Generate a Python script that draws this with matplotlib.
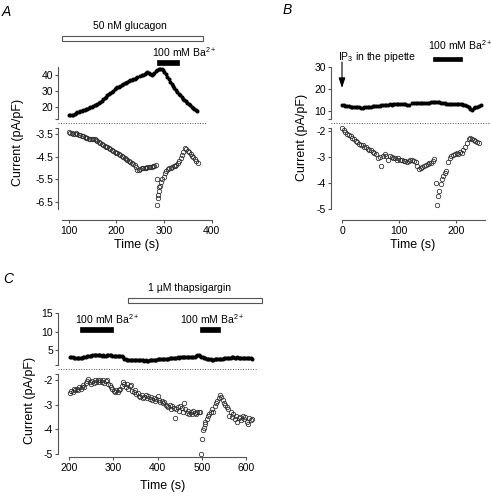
import numpy as np
import matplotlib
matplotlib.use("Agg")
import matplotlib.pyplot as plt
import matplotlib.transforms as mtransforms
from matplotlib.patches import Rectangle
from matplotlib.lines import Line2D

plt.rcParams['font.family'] = ['Liberation Sans', 'DejaVu Sans']
plt.rcParams['mathtext.fontset'] = 'custom'
plt.rcParams['mathtext.rm'] = 'Liberation Sans'
plt.rcParams['mathtext.it'] = 'Liberation Sans:italic'
plt.rcParams['axes.unicode_minus'] = False
plt.rcParams['font.size'] = 7

W, H = 491, 499
PT = 0.72  # points per pixel at dpi 100
SPINE = '#555555'

# ---- panel A: glucagon (time step 3 s) ----
a_up_t0 = 100
a_up = [15.0, 15.1, 15.0, 15.3, 15.8, 16.3, 16.7, 17.0, 17.3, 17.6,
        18.0, 18.3, 18.6, 19.0, 19.4, 19.8, 20.2, 20.6, 21.0, 21.5,
        22.0, 22.6, 23.2, 24.0, 24.8, 25.6, 26.4, 27.2, 28.0, 28.8,
        29.6, 30.3, 31.0, 31.6, 32.2, 32.7, 33.2, 33.7, 34.2, 34.7,
        35.2, 35.6, 36.1, 36.6, 37.0, 37.4, 37.8, 38.2, 38.5, np.nan,
        39.3, 39.8, 40.2, 40.6, 41.5, 41.8, 41.2, 40.8, 40.3, 40.5,
        41.5, 42.5, 43.4, 43.6, 43.5, 43.8, 43.2, 42.0, 40.5, 38.8,
        37.3, 35.9, 34.4, 33.2, 31.9, 30.7, 29.5, 28.4, 27.3, 26.3,
        25.3, 24.4, 23.5, 22.6, 21.8, 21.0, 20.2, 19.4, 18.6, 18.0,
        17.4]
a_low1_t0 = 100
a_low1 = [-3.43, -3.45, -3.46, -3.48, -3.50, -3.47, -3.52, -3.53, -3.55, -3.58,
          -3.60, -3.63, -3.66, -3.68, -3.70, -3.72, -3.71, -3.74, -3.73, -3.77,
          -3.82, -3.86, -3.90, -3.94, -3.98, -4.02, -4.06, -4.09, -4.12, -4.16,
          -4.20, -4.24, -4.28, -4.32, -4.36, -4.40, -4.44, -4.49, -4.53, -4.57,
          -4.61, -4.66, -4.70, -4.74, -4.79, -4.84, -4.89, -4.95, -5.08, -5.10,
          -5.05, -5.02, -5.00, -4.99, -4.98, -4.97, -4.97, -4.95, -4.94, -4.93,
          -4.91, -4.89]
a_burst_t = [285, 286, 287, 288, 289, 290, 291]
a_burst = [-5.50, -6.65, -6.33, -6.19, -6.00, -5.85, -5.80]
a_low2_t0 = 293
a_low2 = [-5.60, -5.50, -5.38, -5.22, -5.12, -5.06, -5.02, -4.99, -4.96, -4.93,
          -4.90, -4.88, -4.80, -4.68, -4.55, -4.42, -4.28, -4.13, -4.18, -4.24,
          -4.30, -4.37, -4.45, -4.53, -4.60, -4.68, -4.78]

# ---- panel B: IP3 in pipette ----
b_up_t0 = 0
b_up = [12.6, 12.5, 12.4, 12.3, 12.2, 12.0, 12.0, 11.9, 11.8, 11.7,
        11.6, 11.5, 11.5, 11.6, 11.8, 11.9, 12.0, 12.0, 12.1, 12.2,
        12.2, 12.3, 12.4, 12.5, 12.5, 12.6, 12.8, 12.9, 13.0, 12.9,
        13.1, 13.2, 13.3, 13.2, 13.1, 13.2, 13.0, 13.0, 12.9, 12.8,
        np.nan, 13.6, 13.7, 13.6, 13.5, 13.7, 13.8, 13.6, 13.7, 13.8,
        13.6, 13.7, 13.9, 14.0, 14.2, 14.3, 14.1, 13.9, 13.7, 13.5,
        13.6, 13.4, 13.3, 13.2, 13.3, 13.4, 13.2, 13.0, 13.2, 13.3,
        13.1, 12.9, 12.7, 12.4, 11.8, 11.0, 10.5, 11.2, 11.8, 12.0,
        12.3, 12.6]
b_low1_t0 = 0
b_low1 = [-1.90, -1.95, -2.05, -2.10, -2.15, -2.20, -2.28, -2.32, -2.40, -2.42,
          -2.50, -2.55, -2.55, -2.60, -2.62, -2.70, -2.72, -2.75, -2.80, -2.85,
          -2.90, -3.05, -3.00, -3.35, -2.95, -2.90, -2.95, -3.10, -2.95, -3.00,
          -3.05, -3.05, -3.10, -3.05, -3.10, -3.12, -3.15, -3.15, -3.18, -3.15,
          -3.12, -3.10, -3.15, -3.20, -3.35, -3.48, -3.42, -3.38, -3.35, -3.30,
          -3.28, -3.25, -3.22, -3.15, -3.08]
b_burst_t = [165, 167, 169, 171, 173, 175, 178, 181, 183]
b_burst = [-4.00, -4.85, -4.50, -4.30, -4.05, -3.85, -3.75, -3.60, -3.55]
b_low2_t0 = 186
b_low2 = [-3.20, -3.05, -2.98, -2.92, -2.88, -2.85, -2.88, -2.82, -2.85, -2.72,
          -2.60, -2.45, -2.32, -2.28, -2.32, -2.36, -2.40, -2.43, -2.47]

# ---- panel C: thapsigargin ----
c_up_t0 = 202
c_up = [3.2, 3.1, 3.0, 2.9, 2.9, 2.8, 2.8, 2.8, 2.9, 2.9,
        3.0, 3.1, 3.2, 3.3, 3.4, 3.5, 3.5, 3.6, 3.6, 3.6,
        3.6, 3.7, 3.6, 3.6, 3.5, 3.6, 3.5, 3.5, 3.6, 3.6,
        3.6, 3.6, 3.5, 3.5, 3.5, 3.4, 3.4, 3.4, 3.3, 3.3,
        3.0, 2.7, 2.5, 2.4, 2.4, 2.3, 2.3, 2.4, 2.3, 2.4,
        2.3, 2.3, 2.2, 2.3, 2.2, 2.2, 2.1, 2.2, 2.1, 2.1,
        2.2, 2.2, 2.3, 2.3, 2.4, 2.4, 2.5, 2.5, 2.5, 2.6,
        2.6, 2.6, 2.7, 2.7, 2.7, 2.8, 2.8, 2.8, 2.9, 2.9,
        2.9, 3.0, 2.9, 3.0, 3.0, 3.0, 3.1, 3.0, 3.0, 3.1,
        3.0, 3.1, 3.0, 3.1, 3.2, 3.5, 3.7, 3.6, 3.4, 3.2,
        3.0, 2.9, 2.8, 2.7, 2.6, 2.5, 2.5, 2.4, 2.4, 2.5,
        2.5, 2.6, 2.6, 2.7, 2.7, 2.7, 2.8, 2.8, 2.8, 2.9,
        2.9, 2.9, 3.0, 3.0, 2.9, 2.9, 3.0, 2.9, 2.9, 2.9,
        2.8, 2.9, 2.8, 2.8, 2.8, 2.8, 2.8, 2.7]
c_low1_t0 = 202
c_low1 = [-2.55, -2.45, -2.50, -2.38, -2.42, -2.35, -2.40, -2.30, -2.38, -2.28,
          -2.22, -2.30, -2.12, -2.05, -1.95, -2.10, -2.15, -2.05, -2.12, -2.00,
          -2.08, -2.00, -2.10, -2.02, -2.08, -2.00, -2.12, -2.05, -2.00, -2.15,
          -2.20, -2.30, -2.35, -2.45, -2.50, -2.42, -2.48, -2.40, -2.35, -2.25,
          -2.10, -2.18, -2.30, -2.15, -2.35, -2.25, -2.20, -2.45, -2.50, -2.40,
          -2.58, -2.55, -2.65, -2.70, -2.62, -2.75, -2.68, -2.60, -2.72, -2.65,
          -2.78, -2.70, -2.80, -2.72, -2.85, -2.78, -2.65, -2.82, -2.90, -2.85,
          -2.95, -2.88, -3.00, -3.05, -3.12, -3.02, -3.18, -3.08, -3.15, -3.55,
          -3.20, -3.10, -3.25, -3.05, -3.15, -3.30, -2.95, -3.20, -3.35, -3.25,
          -3.40, -3.30, -3.38, -3.28, -3.35, -3.40, -3.30, -3.32, -3.30]
c_burst_t = [499, 501, 503, 504, 506, 508]
c_burst = [-5.00, -4.40, -4.05, -3.95, -3.80, -3.70]
c_low2_t0 = 511
c_low2 = [-3.58, -3.48, -3.40, -3.30, -3.20, -3.32, -3.05, -2.95, -2.85, -2.75,
          -2.62, -2.70, -2.82, -2.95, -3.02, -3.10, -3.20, -3.45, -3.30, -3.50,
          -3.40, -3.60, -3.45, -3.70, -3.55, -3.50, -3.65, -3.45, -3.60, -3.52,
          -3.70, -3.80, -3.55, -3.62, -3.58]

STEP = 3


def times(t0, vals):
    return t0 + STEP * np.arange(len(vals))


fig = plt.figure(figsize=(W / 100, H / 100), dpi=100)


def px_axes(x0, y0, x1, y1):
    return fig.add_axes([x0 / W, 1 - y1 / H, (x1 - x0) / W, (y1 - y0) / H])


def style(ax):
    ax.patch.set_visible(False)
    for s in ('top', 'right'):
        ax.spines[s].set_visible(False)
    for s in ('left', 'bottom'):
        ax.spines[s].set_color(SPINE)
        ax.spines[s].set_linewidth(0.8)
    ax.tick_params(which='both', length=3 * PT, width=0.8, color=SPINE, pad=2 * PT, labelsize=7.5)


def panel(x0, x1, xlim, xbounds, xticks, up_y, up_lim, up_ticks, low_y, low_lim, low_ticks, x_out):
    ax_up = px_axes(x0, up_y[0], x1, up_y[1])
    ax_low = px_axes(x0, low_y[0], x1, low_y[1])
    for ax in (ax_up, ax_low):
        style(ax)
        ax.set_xlim(xlim)
    ax_up.spines['bottom'].set_visible(False)
    ax_up.set_xticks([])
    ax_up.set_ylim(up_lim)
    ax_up.set_yticks(up_ticks)
    ax_up.set_yticks([up_lim[0]], minor=True)
    ax_low.set_ylim(low_lim)
    ax_low.set_yticks(low_ticks)
    ax_low.set_yticks([low_lim[1]], minor=True)
    ax_low.spines['bottom'].set_position(('outward', x_out * PT))
    ax_low.spines['bottom'].set_bounds(*xbounds)
    ax_low.set_xticks(xticks)
    ax_low.tick_params(axis='x', pad=3 * PT)
    return ax_up, ax_low


def filled(ax, t, v):
    ax.plot(t, v, 'o', ms=2.9, color='black', mew=0, clip_on=False)


def hollow(ax, t, v):
    ax.plot(t, v, 'o', ms=3.2, mfc='none', mec='#2a2a2a', mew=0.55, clip_on=False)


def fig_y(py):
    return 1 - py / H


def bar(ax, t0, t1, py0, py1, open_bar=False):
    tr = mtransforms.blended_transform_factory(ax.transData, fig.transFigure)
    if open_bar:
        r = Rectangle((t0, fig_y(py1)), t1 - t0, (py1 - py0) / H, transform=tr,
                      facecolor='white', edgecolor='#555555', lw=0.8, clip_on=False)
    else:
        r = Rectangle((t0, fig_y(py1)), t1 - t0, (py1 - py0) / H, transform=tr,
                      facecolor='black', edgecolor='black', lw=0.5, clip_on=False)
    ax.add_patch(r)


def label(ax, t, py, s, ha='left'):
    tr = mtransforms.blended_transform_factory(ax.transData, fig.transFigure)
    ax.text(t, fig_y(py), s, transform=tr, ha=ha, va='center', fontsize=7.5, clip_on=False)


def dotted(px0, px1, py):
    fig.add_artist(Line2D([px0 / W, px1 / W], [fig_y(py)] * 2, transform=fig.transFigure,
                          ls=(0, (1, 1.6)), lw=0.7, color='#555555'))


BA = r'100 mM Ba$^{2+}$'

# panel A
axA_up, axA_low = panel(58, 212, (77, 401), (85, 400), [100, 200, 300, 400],
                        (67, 119), (12.5, 45), [20, 30, 40],
                        (128, 209), (-6.81, -3.236), [-6.5, -5.5, -4.5, -3.5], 11)
filled(axA_up, times(a_up_t0, a_up), a_up)
hollow(axA_low, times(a_low1_t0, a_low1), a_low1)
hollow(axA_low, a_burst_t, a_burst)
hollow(axA_low, times(a_low2_t0, a_low2), a_low2)
bar(axA_up, 85, 382, 36, 41, open_bar=True)
label(axA_up, 228, 26, '50 nM glucagon', ha='center')
bar(axA_up, 285, 331, 60, 65)
label(axA_up, 275, 52, BA)
dotted(58, 207, 123)

# panel B
axB_up, axB_low = panel(331, 486, (-19.3, 252.6), (0, 250), [0, 100, 200],
                        (67, 119), (6.36, 30), [10, 20, 30],
                        (128, 209), (-5.0, -1.885), [-5, -4, -3, -2], 11)
filled(axB_up, times(b_up_t0, b_up), b_up)
hollow(axB_low, times(b_low1_t0, b_low1), b_low1)
hollow(axB_low, b_burst_t, b_burst)
hollow(axB_low, times(b_low2_t0, b_low2), b_low2)
bar(axB_up, 160, 210, 57, 61)
label(axB_up, 151, 45, BA)
label(axB_up, -7, 57, r'IP$_3$ in the pipette')
trB = mtransforms.blended_transform_factory(axB_up.transData, fig.transFigure)
axB_up.annotate('', xy=(0, fig_y(88)), xycoords=trB, xytext=(0, fig_y(62)), textcoords=trB,
                arrowprops=dict(arrowstyle='-|>,head_length=0.6,head_width=0.2',
                                color='black', lw=0.8, mutation_scale=10, shrinkA=0, shrinkB=0),
                annotation_clip=False)
dotted(331, 491, 123)

# panel C
axC_up, axC_low = panel(58, 257, (175.2, 624.4), (200, 600), [200, 300, 400, 500, 600],
                        (313, 365), (0.95, 15), [5, 10, 15],
                        (374, 454), (-5.02, -1.755), [-5, -4, -3, -2], 3)
filled(axC_up, times(c_up_t0, c_up), c_up)
hollow(axC_low, times(c_low1_t0, c_low1), c_low1)
hollow(axC_low, c_burst_t, c_burst)
hollow(axC_low, times(c_low2_t0, c_low2), c_low2)
bar(axC_up, 333, 636, 298, 303, open_bar=True)
label(axC_up, 471, 288, '1 \u00b5M thapsigargin', ha='center')
bar(axC_up, 225, 299, 327, 332)
label(axC_up, 213, 319, BA)
bar(axC_up, 496, 541, 327, 332)
label(axC_up, 451, 319, BA)
dotted(58, 257, 369)

# axis titles and panel letters
for x, y in [(18, 142), (302, 137), (30, 400)]:
    fig.text(x / W, fig_y(y), 'Current (pA/pF)', rotation=90, ha='center', va='center', fontsize=9)
for x, y in [(137, 245), (413, 245), (163, 486)]:
    fig.text(x / W, fig_y(y), 'Time (s)', ha='center', va='center', fontsize=9)
for x, y, s in [(2, 12, 'A'), (283, 10, 'B'), (3, 279, 'C')]:
    fig.text(x / W, fig_y(y), s, ha='left', va='center', fontsize=10, style='italic')

fig.savefig('out.png', dpi=100)
